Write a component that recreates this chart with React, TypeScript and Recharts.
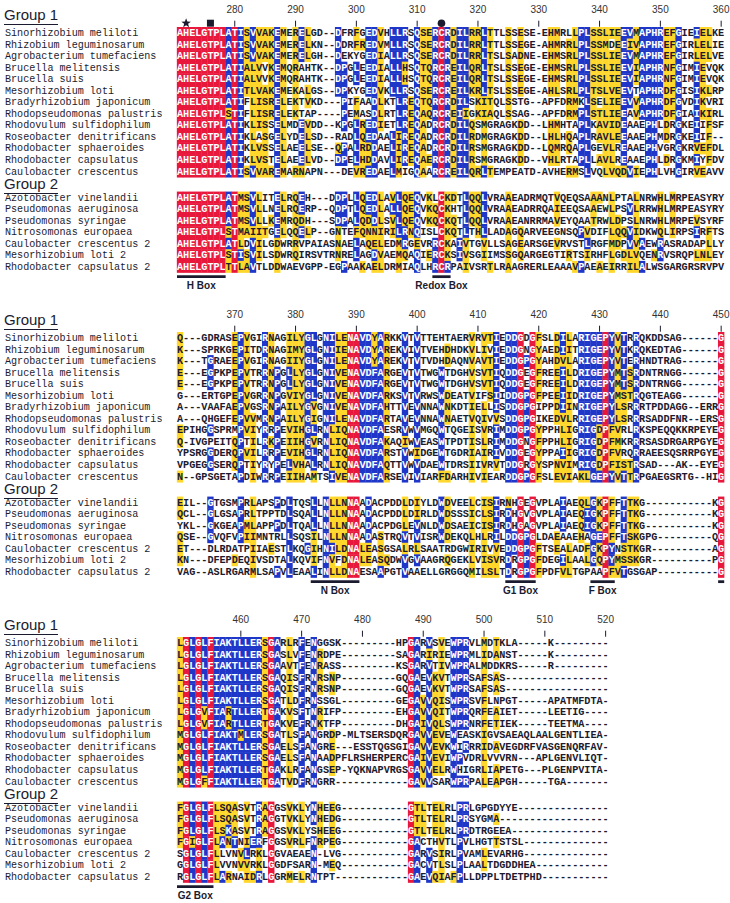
import React from "react";
import { ScatterChart, Scatter, XAxis, YAxis, ReferenceArea } from "recharts";

const group1Names = [
  "Sinorhizobium meliloti",
  "Rhizobium leguminosarum",
  "Agrobacterium tumefaciens",
  "Brucella melitensis",
  "Brucella suis",
  "Mesorhizobium loti",
  "Bradyrhizobium japonicum",
  "Rhodopseudomonas palustris",
  "Rhodovulum sulfidophilum",
  "Roseobacter denitrificans",
  "Rhodobacter sphaeroides",
  "Rhodobacter capsulatus",
  "Caulobacter crescentus",
];

const group2Names = [
  "Azotobacter vinelandii",
  "Pseudomonas aeruginosa",
  "Pseudomonas syringae",
  "Nitrosomonas europaea",
  "Caulobacter crescentus 2",
  "Mesorhizobium loti 2",
  "Rhodobacter capsulatus 2",
];

// residues 271-360
const block1Group1 = [
  "AHELGTPLATISVVAKEMERELGD--DFRFGEDVHLLRSQSERCRDILRRLTTLSSESE-EHMRLLPLSSLIEEVMAPHREFGIEIELKE",
  "AHELGTPLATISVVAKEMERELKN--DDRFREDVMLLRSQSERCRDILRRLTTLSSEGE-AHMRRLPLSSMDEEIVAPHREFGIRLELIE",
  "AHELGTPLATISVVAKEMERELGH--DEKYGEDIALLRSQSERCRDILRRLTSLSADNE-EHMSRLPLSSLIEEVMAPHREFGIRLELVE",
  "AHELGTPLATIALVVKEMQRAHTK--DPGLEEDIALLHSQTQRCREILQRLTSLSSEGE-EHMSRLPLSSLIEEVIAPHRNFGIMIEVQK",
  "AHELGTPLATIALVVKEMQRAHTK--DPGLEEDIALLHSQTQRCREILQRLTSLSSEGE-EHMSRLPLSSLIEEVIAPHRNFGIMIEVQK",
  "AHELGTPLATITLVAKEMEKALGS--DPKYGEDVKLLRSQSERCREILKRLTSLSSEGE-AHLSRLPLTSLVEEVTAPHRDFGISIKLRP",
  "AHELGTPLATIFLISRELEKTVKD---PIFAADLKTLREQTQRCRDILSKITQLSSTG--APFDRMKLSELIEEVVAPHRDFGVDIKVRI",
  "AHELGTPLSTIFLISRELEKTAP----PEMASDLRTLREQAQRCREIIGKIAQLSSAG--APFDRMPLSTLIEEAVAPHRDFGIAIKIRL",
  "AHELGTPLATIKLISSELMDEVDD--KPGLREDIETLREQADRCRDILQSMGRAGKDD--LHMHTAPLKAVIDEAAEPHLDRGKEIIFSF",
  "AHELGTPLATIKLASGELYDELSD--RADLQEDAALIREQADRCRDILRDMGRAGKDD--LHLHQAPLRAVLEEAAEPHMDRGKEIIF--",
  "AHELGTPLATIKLVSSELAEELSE--QPALRDDAELIREQADRCRDILRSMGRAGKDD--LQMRQAPLGEVLREAAEPHVGRGKRVEFDL",
  "AHELGTPLATIKLVSTELAEELVD--DPELHDDAVLIREQAERCRDILRSMGRAGKDD--VHLRTAPLLAVLREAAEPHLDRGKMIYFDV",
  "AHELGTPLATISVVAREMARNAPN---DEVREDAELMIGQAARCREILQRLTEMPEATD-AVHERMSLVQLVQDVIEPHLVHGIRVEAVV",
];
const block1Group2 = [
  "AHELGTPLATMSVLITELRQEH---DDPLLQEDLAVLQEQVKLCKDTLQQLVRAAEADRMQTVQEQSAAANLPTALNRWHLMRPEASYRY",
  "AHELGTPLATMSVLLNELRQERP--QDPTLQEDLALLQEQVKQCKHTLQQLVRAAEADRRQAIEEQSAAEWLPSVLRRWHLMRPEASYRY",
  "AHELGTPLATMSVLLKEMRQDH---SDPALQDDLSVLQEQVKQCKQTLQQLVRAAEANRRMAVEYQAATRWLDPSLNRWHLMRPEVSYRF",
  "AHELGTPLSTMAIITGELQQELP--GNTEFQNNIRILRNQISLCKQTLTHLLADAGQARVEEGNSQPVDIFLQQVIDKWQLIRPSIRFTS",
  "AHELGTPLATLDVILGDWRRVPAIASNAELAQELEDMRGEVRRCKAIVTGVLLSAGEARSGEVRVSTLRGFMDPVVAEWRASRADAPLLY",
  "AHELGTPLSTISVILSDWRQIRSVTRNRELAGDVAEMQAQIERCKSIVSGIIMSSGQARGEGTIRTSIRHFLGDLVQENRVSRQPLNLEY",
  "AHELGTPLTTLAVTLDDWAEVGPP-EGPAAKAELDRMIAQLHRCRPAIVSRTLRAAGRERLEAAAVPAEAEIRRILALWSGARGRSRVPV",
];

// residues 361-450
const block2Group1 = [
  "Q---GDRASEPVGIRNAGILYGLGNILENAVDYARKKVTVTTEHTAERVRVTIEDDGDGFSLDILARIGEPYVTRRQKDDSAG------G",
  "K---SPRKGEPITDRNAGIMYGLGNIIENAVDYAREKVIVTVEHDHDKVLIVIEDDGNGYAEDIITRIGEPYVTKRQKEDTAG------G",
  "K---TGRAEEPVGIRNAGIIYGLGNILENAVDYAREKVTVTVDHDAQNVAVTIEDDGPGYAHDVLARIGEPYVTERHNDTRAG------G",
  "E---EGPKPEPVTRRNPGLLYGLGNIVENAVDFARGEVTVTWGWTDGHVSVTIQDDGEGFREEILDRIGEPYMTSRDNTRNGG------G",
  "E---EGPKPEPVTRRNPGLLYGLGNIVENAVDFARGEVTVTWGWTDGHVSVTIQDDGEGFREEILDRIGEPYMTSRDNTRNGG------G",
  "G---ERTGPEPVGRRNPGVIYGLGNIVENAVDFARKSVTVRWSWDEATVIFSIIDDGPGFPEEIIDRIGEPYMSTRQGTEAGG------G",
  "A---VAAFAEPVGSRNPAILYGVGNIVENAVDFAHTTVEVNNAWNKDTIELLISDDGPGIPPDIINRIGEPYLSRRRTPDDAGG--ERRG",
  "A---QHGEFEPVVMRNPAILYGIGNILENAVDFARTAVEVNNAWNAETVQIVVSDDGPGIKEDVLRRIGEPYLSRRRSADDFNR--ERSG",
  "EPIHGGSPRMPVIYRRPEVIHGLRNLIQNAVDFAESRVWVMGQWTQGEISVRIMDDGPGYPPHLIGRIGDPFVRLRKSPEQQKKRPEYEG",
  "Q-IVGPEITQPTILRKPEIIHGVRNLIQNAVDFAKAQIWVEASWTPDTISLRIMDDGNGFPPHLIGRIGDPFMKRRRSASDRGARPGYEG",
  "YPSRGGDERQPVILRRPEVIHGLRNLIQNAVDFARSTVWIDGEWTGDRIAIRIVDDGEGYPPAIIGRIGDPFVRQRRAEESQSRRPGYEG",
  "VPGEGGSERQPTIYRYPELVHALRNLIQNAVDFAQTTVWVDAEWTDRSIIVRVTDDGRGYSPNVIMRIGDPFISTRSAD---AK--EYEG",
  "N--GPSGETAPDIWRRPEIIHAMTSIVENAVDFARSEVIVIARFDARHIVIEARDDGPGFSLEVIAKLGEPYVTTRPGAEGSRTG--HIG",
];
const block2Group2 = [
  "EIL--GTGSMPRLAPSPDLTQSLLNLLNNAADACPDDLDIYLDWDVEELCISIRNHGEGVPLAIAEQLGKPFFTTKG-----------KG",
  "QCL--GLGSAPRLTPPTDLSQALLNLLNNAADACPDDLDIRLDWDSSSICLSIRDHGVGVPLAIAEQIGKPFFTTKG-----------KG",
  "YKL--GKGEAPMLAPPPDLTQALLNLLNNAADACPDGLEVNLDWDSAEICISIRDHGAGVPLAIAEQIGKPFFTTKG-----------KG",
  "QSE--GVQFVPIIMNTRLLSQSILNLLNNAADASTRQVTVISRWDEKQLHLRILDDGPGLDAEAAEHAGEPFFTSKGPG---------QG",
  "ET---DLRDATPIIAESTLKQGIHNILDNALEASGSALRLSAATRDGWIRIVVEDDGPGFTSEALADFGKPYNSTKGR----------AG",
  "KN---DFEPDEQIVSDTALKQVIFNVFDNALEASQDWVGVAAGRQGEKLVISVRDRGPGFDEGILAALGQPYMSSKGR----------PG",
  "VAG--ASLRGARMLSAPVLEAALINLLDNAESAAPGTVAAELLGRGGQMILSLTDRGPGFPDFVLTGPAAPFVTGSGAP----------G",
];

// residues 450-520
const block3Group1 = [
  "LGLGLFIAKTLLERSGARLRFENGGSK---------HPGARVSVEWPRVLMDTKLA-----K---------",
  "LGLGLFIAKTLLERSGASLVFENRDPE---------SAGARIRIEWPRMLIDANST-----K---------",
  "LGLGLFIAKTLLERSGAAVTFENRASS---------KSGARVTIVWPRALMDDKRS-----R---------",
  "LGLGLFIAKTLLERSGAQISFRNRSNP---------GQGAEVKVTWPRSAFSAS-----------------",
  "LGLGLFIAKTLLERSGAQISFRNRSNP---------GQGAEVKVTWPRSAFSAS-----------------",
  "LGLGLFIAKTLLERSGATLDFRNSSGL---------GEGAVVQISWPRSVFLNPGT-----APATMFDTA-",
  "LGLGVFIARTLLERTGAKVSFTNRIFP---------EHGAVVQITWPRQRFEAIET-----LEETIG----",
  "LGLGVFIARTLLERTGAKVEFRNKTFP---------DHGAIVQLSWPRNRFETIEK-----TEETMA----",
  "MGLGLFIAKTMLERSGATLSFANGRDP-MLTSERSDQRGAVVEVEWEASKIGVSAEAQLAALGENTLIEA-",
  "MGLGLFIAKTLLERSGAELSFANGRE---ESSTQGSGIGAVVEVKWIRRRIDAVEGDRFVASGENQRFAV-",
  "MGLGLFIAKTLLERSGAELSFANAADPFLRSHERPERCGAIVEVIWPVDRLVVVRN---APLGENVLIQT-",
  "MGLGLFIAKTLLERTGAKLRFANGSEP-YQKNAPVRGSGAVVELRWHIGRLIAPETG---PLGENPVITA-",
  "MGLGFFIAKTLLERTGATVDFRNGRR------------GAVVSARWPRPALEAPGH-----TGA-------",
];
const block3Group2 = [
  "FGLGLFLSQASVTRAGGSVKLYNHEEG-----------GTLTELRLPRLGPGDYYE---------------",
  "FGLGLFLSQASVTRAGGTVKLYNHEDG-----------GTLTELRLPRSYGMA------------------",
  "FGLGLFLSKASVTRAGGSVKLYSHEEG-----------GTLTELRLPRDTRGEEA----------------",
  "FGIGLFLANTNIERFGGSVRLFNRPEG-----------GACTHVTLPVLHGTTSTSL--------------",
  "SGLGLFLLVNVLRKLGGVAEAEN-LVG-----------GARVSIRLPVAMLEVARHG--------------",
  "GGLGLFLVVNVVRKLGGDFSARN-MEQ-----------GACVTLSLPLAALTDGDDHEA------------",
  "RGLGLFLARNAIDRLGGRMELRNTPT------------GAEVQIAFPLLDPPLTDETPHD-----------",
];

const block1Ticks = [280, 290, 300, 310, 320, 330, 340, 350, 360];
const block2Ticks = [370, 380, 390, 400, 410, 420, 430, 440, 450];
const block3Ticks = [460, 470, 480, 490, 500, 510, 520];

const block1Marks = [
  { col: 1, kind: "star" },
  { col: 5, kind: "square" },
  { col: 43, kind: "circle" },
];

const block1Boxes = [
  { label: "H Box", from: 0, to: 7 },
  { label: "Redox Box", from: 42, to: 44 },
];
const block2Boxes = [
  { label: "N Box", from: 22, to: 29 },
  { label: "G1 Box", from: 54, to: 58 },
  { label: "F Box", from: 68, to: 71 },
  { label: "", from: 89, to: 89 },
];
const block3Boxes = [{ label: "G2 Box", from: 0, to: 5 }];

const blocks = [
  { first: 271, g1: block1Group1, g2: block1Group2, ticks: block1Ticks, marks: block1Marks, boxes: block1Boxes },
  { first: 361, g1: block2Group1, g2: block2Group2, ticks: block2Ticks, marks: [], boxes: block2Boxes },
  { first: 450, g1: block3Group1, g2: block3Group2, ticks: block3Ticks, marks: [], boxes: block3Boxes },
];

const RED = "#e8173c";
const BLUE = "#1f37c8";
const YELLOW = "#ffd62a";
const INK = "#1b1b2f";
const MONO = "'Liberation Mono', 'DejaVu Sans Mono', monospace";
const SANS = "'Liberation Sans', Arial, sans-serif";

const CW = 6.08;
const RH = 11.55;
const BLOCK_H = 305;
const AXIS_H = 27.2;

const SIM = ["STA", "NEQK", "NHQK", "NDEQ", "QHRK", "MILV", "MILF", "HY", "FYW"];
const similar = (a: string, b: string) => SIM.some((g) => g.includes(a) && g.includes(b));

function shadeColumn(chars: string[]): string[] {
  const n = chars.length;
  const counts: Record<string, number> = {};
  chars.forEach((c) => {
    if (c !== "-") counts[c] = (counts[c] || 0) + 1;
  });
  let best = "";
  let bc = 0;
  for (const k in counts) if (counts[k] > bc) { best = k; bc = counts[k]; }
  if (bc === n) return chars.map(() => "red");
  if (bc >= n * 0.5)
    return chars.map((c) => (c === best ? "blue" : c !== "-" && similar(c, best) ? "yellow" : "none"));
  let bg = "";
  let gc = 0;
  for (const g of SIM) {
    const s = chars.filter((c) => g.includes(c)).length;
    if (s > gc) { gc = s; bg = g; }
  }
  if (gc >= n * 0.5) return chars.map((c) => (bg.includes(c) ? "yellow" : "none"));
  return chars.map(() => "none");
}

const rowPos = (i: number) => (i < 13 ? i : i + 1.25);

function buildCells(rows: string[]) {
  const len = Math.max(...rows.map((r) => r.length));
  const padded = rows.map((r) => r.padEnd(len, "-"));
  const cells: any[] = [];
  for (let c = 0; c < len; c++) {
    const col = padded.map((r) => r[c]);
    const shade = shadeColumn(col);
    padded.forEach((r, i) => cells.push({ x: c, y: rowPos(i), ch: r[c], shade: shade[i] }));
  }
  return cells;
}

const bgFill: Record<string, string> = { red: RED, blue: BLUE, yellow: YELLOW };

function BgShape(props: any) {
  const { cx, cy } = props;
  const p = props.payload || props;
  return <rect x={cx - CW / 2 - 0.15} y={cy - RH / 2 - 0.2} width={CW + 0.3} height={RH + 0.4} fill={bgFill[p.shade]} />;
}

function TextShape(props: any) {
  const { cx, cy } = props;
  const p = props.payload || props;
  const light = p.shade === "red" || p.shade === "blue";
  return (
    <text x={cx} y={cy + 0.5} textAnchor="middle" dominantBaseline="central" fontFamily={MONO} fontWeight={700} fontSize={10.2} fill={light ? "#ffffff" : INK}>
      {p.ch}
    </text>
  );
}

function starPath(cx: number, cy: number, R: number, r: number) {
  let d = "";
  for (let i = 0; i < 10; i++) {
    const a = -Math.PI / 2 + (i * Math.PI) / 5;
    const rad = i % 2 === 0 ? R : r;
    d += (i ? "L" : "M") + (cx + rad * Math.cos(a)).toFixed(2) + "," + (cy + rad * Math.sin(a)).toFixed(2);
  }
  return d + "Z";
}

function TopTick(props: any) {
  const { x, y, payload, labels, marks } = props;
  const col = payload.value;
  const mark = marks.find((m: any) => m.col === col);
  if (mark) {
    const cy = y - 4;
    if (mark.kind === "star") return <path d={starPath(x, cy, 5, 2.1)} fill={INK} />;
    if (mark.kind === "square") return <rect x={x - 3.5} y={cy - 3.5} width={7} height={7} fill={INK} />;
    return <circle cx={x} cy={cy} r={3.8} fill={INK} />;
  }
  return (
    <g>
      <line x1={x} x2={x} y1={y - 6.5} y2={y - 0.5} stroke={INK} strokeWidth={1} />
      <text x={x} y={y - 18} textAnchor="middle" dominantBaseline="central" fontFamily={SANS} fontSize={10} fill="#333">
        {labels[col]}
      </text>
    </g>
  );
}

function NameTick(props: any) {
  const { y, payload, names, ticks } = props;
  const idx = ticks.indexOf(payload.value);
  return (
    <text x={5} y={y + 0.5} dominantBaseline="central" fontFamily={MONO} fontSize={10.1} fill={INK}>
      {names[idx]}
    </text>
  );
}

function Block({ cfg }: { cfg: any }) {
  const rows = [...cfg.g1, ...cfg.g2];
  const names = [...group1Names, ...group2Names];
  const cells = buildCells(rows);
  const shaded = cells.filter((c) => c.shade !== "none");
  const rowTicks = rows.map((_: string, i: number) => rowPos(i));
  const labels: Record<number, string> = {};
  cfg.ticks.forEach((t: number) => (labels[t - cfg.first] = String(t)));
  const tickCols = [...cfg.ticks.map((t: number) => t - cfg.first), ...cfg.marks.map((m: any) => m.col)].sort(
    (a, b) => a - b
  );
  const rowY = (r: number) => AXIS_H + (r + 0.5) * RH;
  const groupStyle: React.CSSProperties = {
    position: "absolute",
    left: 4,
    fontFamily: SANS,
    fontSize: 15,
    lineHeight: "16px",
    color: INK,
    borderBottom: `1px solid ${INK}`,
    paddingBottom: 1,
  };
  return (
    <div style={{ position: "relative", width: 730, height: BLOCK_H }}>
      <ScatterChart width={730} height={BLOCK_H} margin={{ top: 0, right: 5.8, bottom: 8.7, left: 0 }}>
        <XAxis
          type="number"
          dataKey="x"
          orientation="top"
          domain={[-0.5, 89.5]}
          ticks={tickCols}
          interval={0}
          height={AXIS_H}
          axisLine={false}
          tickLine={false}
          tickSize={0}
          tickMargin={0}
          tick={(p: any) => <TopTick {...p} labels={labels} marks={cfg.marks} />}
        />
        <YAxis
          type="number"
          dataKey="y"
          domain={[-0.5, 22.8]}
          reversed
          ticks={rowTicks}
          interval={0}
          width={177}
          axisLine={false}
          tickLine={false}
          tick={(p: any) => <NameTick {...p} names={names} ticks={rowTicks} />}
        />
        <Scatter data={shaded} shape={BgShape} isAnimationActive={false} />
        <Scatter data={cells} shape={TextShape} isAnimationActive={false} />
        {cfg.boxes.map((b: any, i: number) => (
          <ReferenceArea
            key={i}
            x1={b.from - 0.5}
            x2={b.to + 0.5}
            y1={20.98}
            y2={21.22}
            fill={INK}
            fillOpacity={1}
            stroke="none"
            label={
              b.label
                ? { value: b.label, position: "bottom", offset: 4, fontSize: 10, fontWeight: 700, fill: INK, fontFamily: SANS }
                : undefined
            }
          />
        ))}
      </ScatterChart>
      <div style={{ ...groupStyle, top: rowY(-1.47) - 9 }}>Group 1</div>
      <div style={{ ...groupStyle, top: rowY(13.16) - 9 }}>Group 2</div>
    </div>
  );
}

export default function App() {
  return (
    <div style={{ width: 730, background: "#fff" }}>
      <style>{"body{margin:0;background:#fff}"}</style>
      {blocks.map((b, i) => (
        <Block key={i} cfg={b} />
      ))}
    </div>
  );
}
